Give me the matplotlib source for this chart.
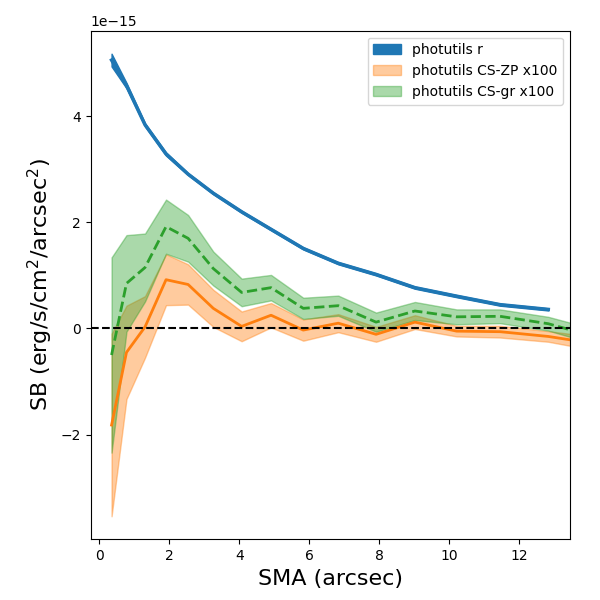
import numpy as np
import matplotlib
matplotlib.use('Agg')
import matplotlib.pyplot as plt

escala = 1e-15

sma = np.array([0.354, 0.78, 1.31, 1.91, 2.54, 3.26, 4.07, 4.91, 5.83, 6.83,
                7.91, 9.02, 10.21, 11.45, 12.83, 14.3])

# perfil r (15 pontos)
sb_r = np.array([5.06, 4.58, 3.84, 3.29, 2.91, 2.55, 2.20, 1.87, 1.51, 1.23,
                 1.02, 0.77, 0.61, 0.45, 0.36])
err_r = np.array([0.12, 0.05, 0.03, 0.03, 0.02, 0.02, 0.02, 0.02, 0.02, 0.02,
                  0.02, 0.02, 0.02, 0.02, 0.02])

# CS-ZP x100
sb_zp = np.array([-1.82, -0.45, 0.03, 0.92, 0.83, 0.38, 0.04, 0.25, -0.03, 0.10,
                  -0.11, 0.12, -0.05, -0.06, -0.15, -0.30])
err_zp = np.array([1.72, 0.88, 0.58, 0.48, 0.38, 0.35, 0.28, 0.23, 0.20, 0.17,
                   0.14, 0.13, 0.10, 0.11, 0.10, 0.13])

# CS-gr x100
sb_gr = np.array([-0.50, 0.85, 1.15, 1.92, 1.70, 1.13, 0.68, 0.77, 0.38, 0.43,
                  0.12, 0.33, 0.22, 0.23, 0.09, -0.18])
err_gr = np.array([1.84, 0.91, 0.64, 0.51, 0.44, 0.32, 0.26, 0.24, 0.20, 0.19,
                   0.18, 0.17, 0.14, 0.13, 0.13, 0.14])

fig = plt.figure(figsize=(6, 6), dpi=100)
ax = fig.add_subplot(111)
fig.subplots_adjust(left=0.151, right=0.95, top=0.949, bottom=0.101)

n_r = len(sb_r)
x_r = sma[:n_r]
ax.fill_between(x_r, (sb_r - err_r) * escala, (sb_r + err_r) * escala,
                color='C0', label='photutils r')
ax.plot(x_r, sb_r * escala, color='C0', lw=2.5)

ax.fill_between(sma, (sb_zp - err_zp) * escala, (sb_zp + err_zp) * escala,
                color='C1', alpha=0.4, label='photutils CS-ZP x100')
ax.plot(sma, sb_zp * escala, color='C1', lw=2)

ax.fill_between(sma, (sb_gr - err_gr) * escala, (sb_gr + err_gr) * escala,
                color='C2', alpha=0.4, label='photutils CS-gr x100')
ax.plot(sma, sb_gr * escala, color='C2', lw=2, ls='--')

ax.axhline(0, color='k', ls='--', lw=1.5)

ax.set_xlim(-0.245, 13.45)
ax.set_xlabel('SMA (arcsec)', fontsize=16)
ax.set_ylabel('SB (erg/s/cm$^2$/arcsec$^2$)', fontsize=16)
ax.legend(loc='upper right')

plt.savefig('out.png', dpi=100)
